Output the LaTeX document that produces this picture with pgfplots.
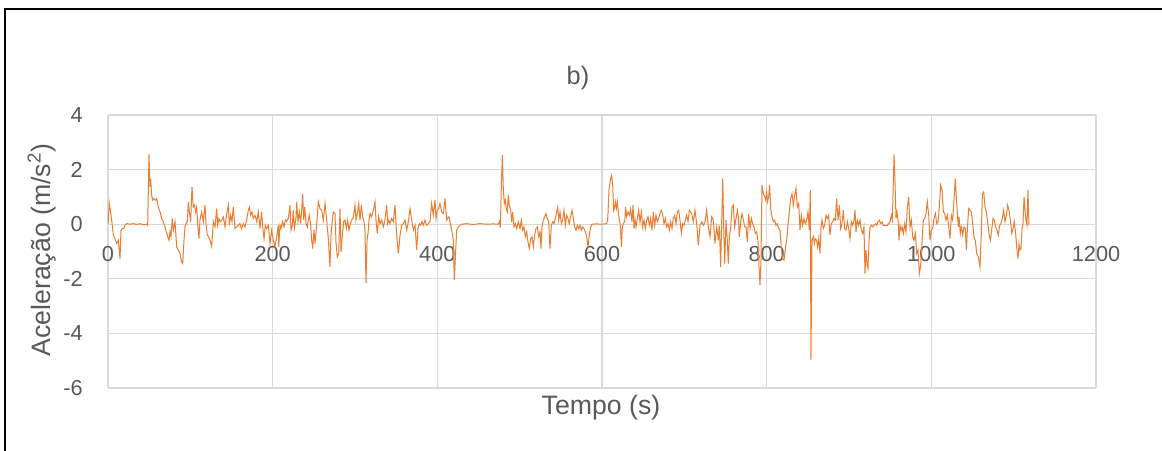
\documentclass[border=0pt]{standalone}
\usepackage{fontspec}
\setmainfont{Liberation Sans}
\usepackage{pgfplots}
\pgfplotsset{compat=1.18}
\definecolor{accorange}{HTML}{ED7D31}
\definecolor{txtgray}{HTML}{595959}
\definecolor{gridgray}{HTML}{D9D9D9}
\definecolor{zerogray}{HTML}{BFBFBF}
\begin{document}
\begin{tikzpicture}
\useasboundingbox (0,0) rectangle (871.5pt,337.5pt);
\draw[black, line width=1.5pt] (3.75pt,-1pt) -- (3.75pt,330.75pt) -- (873pt,330.75pt);
\begin{axis}[
  at={(81pt,46.5pt)}, anchor=south west,
  scale only axis, width=741pt, height=204.75pt,
  xmin=0, xmax=1200, ymin=-6, ymax=4,
  xtick={0,200,...,1200}, xticklabels={0,200,400,600,800,1000,1200},
  ytick={-6,-4,...,4}, yticklabels={-6,-4,-2,0,2,4},
  extra y ticks={0}, extra y tick labels={},
  extra y tick style={grid style={color=zerogray, line width=0.9pt}},
  grid=major, major grid style={color=gridgray, line width=0.9pt},
  axis line style={draw=none},
  major tick length=0pt,
  tick label style={font=\fontsize{16.3}{19}\selectfont, text=txtgray, inner sep=0pt},
  xticklabel style={anchor=center, yshift=100.5pt},
  yticklabel style={anchor=east, xshift=-18.75pt},
  xlabel={Tempo (s)},
  ylabel={Aceleração (m/s\textsuperscript{2})},
  label style={font=\fontsize{20}{24}\selectfont, text=txtgray},
  x label style={at={(axis description cs:0.499,-0.073)}, anchor=center},
  y label style={at={(axis description cs:-0.0668,0.505)}, anchor=center},
  title={b)},
  title style={at={(axis description cs:0.4757,1.105)}, anchor=center, font=\fontsize{19}{23}\selectfont, text=txtgray},
]
\addplot[color=accorange, line width=0.75pt, mark=none] table {
t v
0 0.0
1.6 0.76
4.5 0.15
6.5 -0.40
8.5 -0.53
10.5 -0.71
12.6 -0.59
14.6 -1.26
15.8 -0.22
17.4 -0.16
19.4 -0.16
20.6 -0.04
22.7 0.02
26.7 0
30.8 0.02
34.8 -0.01
38.9 0.02
42.9 -0.02
47.0 0.0
48.2 -0.04
49.8 2.56
51.0 1.37
51.8 1.67
53.0 1.06
54.3 0.88
55.9 0.94
57.9 0.88
59.1 0.94
61.1 0.63
63.2 0.45
65.2 0.21
67.2 0.09
69.2 -0.10
71.3 -0.34
72.5 -0.46
74.1 -0.59
75.3 -0.28
76.5 -0.46
78.1 0.21
79.4 -0.22
81.4 0.09
83.4 -0.83
85.4 -0.95
87.4 -1.07
89.5 -1.38
90.7 -1.44
92.3 -0.59
93.5 -0.10
94.7 0.02
96.4 0.09
97.6 0.82
98.8 0.45
100.4 0.09
102.0 1.37
103.6 0.63
104.9 0.70
106.5 0.45
107.7 0.63
108.9 0.02
110.5 -0.53
111.7 0.15
113.8 0.45
115.8 0.09
117.8 0.70
119.0 0.02
120.6 -0.40
122.3 -0.46
123.9 -0.59
125.9 -0.81
127.9 0.09
130.0 -0.10
132.0 0.57
133.2 -0.04
134.8 0.21
136.0 0.09
138.1 0.15
140.1 0.27
142.1 -0.10
144.1 0.39
146.2 0.70
147.4 -0.04
149.0 0.33
150.6 0.09
152.2 0.63
154.3 -0.16
156.3 -0.10
158.3 -0.04
160.3 0.02
162.3 -0.16
164.4 0.02
166.4 -0.10
168.4 0.15
170.4 0.51
171.7 0.63
173.3 0.33
174.9 0.45
176.5 0.21
178.5 0.33
180.6 0.09
182.6 0.45
184.6 -0.16
186.6 0.45
187.9 -0.10
189.5 -0.53
191.1 -0.04
192.7 -0.16
194.7 -0.04
196.8 -0.71
198.8 -0.22
200.8 -0.59
202.8 -0.83
204.9 -0.46
206.9 -0.04
207.3 -0.83
208.9 -0.04
210.1 -0.16
212.1 0.09
213.8 -0.10
215.4 0.15
217.0 0.09
219.0 0.21
221.1 0.70
222.3 -0.22
223.9 -0.04
225.1 0.51
226.3 -0.16
228.3 0.21
229.1 0.82
230.8 0.09
232.4 0.45
234.0 0.02
235.2 0.51
236.4 1.12
237.7 0.15
238.9 0.63
240.5 0.02
242.1 -0.10
243.3 0.15
244.5 0.33
246.2 -0.04
247.4 -0.59
248.6 -0.89
250.2 -0.22
251.4 -0.71
253.4 -0.04
255.5 0.82
257.5 0.57
259.5 0.51
261.5 0.15
263.6 0.76
265.6 0.15
267.6 -0.53
269.6 -1.56
270.9 -0.34
272.5 0.15
273.7 0.45
275.7 0.39
276.9 -0.65
278.5 -1.20
280.2 -1.07
281.8 0.57
283.0 -1.01
284.6 -0.46
286.2 0.09
287.9 0.15
289.5 -0.16
291.1 0.15
292.7 -0.22
294.3 0.02
296.0 0.15
298.0 0.27
300.0 0.70
301.2 0.15
302.8 0.39
304.5 0.76
306.1 0.15
307.7 0.70
309.3 0.27
310.9 0.09
312.1 -0.22
313.4 -2.17
314.6 -0.59
315.8 -0.34
317.0 0.15
318.2 0.39
320.2 0.27
322.3 0.51
324.3 0.82
325.5 0.15
327.1 -0.34
328.7 0.27
330.4 0.02
332.4 0.15
334.4 -0.10
336.4 0.15
338.5 0.70
339.7 0.02
340.9 0.15
342.5 0.02
344.5 0.21
346.6 0.09
348.6 0.70
350.6 -0.40
352.6 -1.07
354.7 -0.40
356.7 -0.04
358.7 0.02
360.7 0.15
362.8 -0.22
364.8 0.09
366.8 0.57
368.8 0.15
370.9 -0.22
372.9 -0.04
374.9 -0.95
376.5 -0.16
378.1 0.02
379.8 -0.04
381.4 0.09
383.0 -0.04
385.0 0.15
387.0 -0.04
389.1 0.02
391.1 0.09
393.1 0.76
395.1 0.33
397.2 0.88
398.4 0.21
400.0 0.51
401.6 0.57
403.2 0.76
405.3 0.45
407.3 0.39
409.3 0.94
411.3 0.15
413.4 0.27
414.2 0.27
415.4 0.09
417.4 -0.22
419.4 -0.59
420.6 -2.05
422.3 -0.95
423.5 -0.22
425.5 -0.10
427.5 -0.04
429.6 0.0
435.6 0.02
443.7 -0.01
451.8 0.02
459.9 0.0
468.0 0.01
474.1 0.0
475.3 0.09
476.5 -0.12
477.7 1.37
479.0 2.53
480.2 1.25
481.4 0.76
482.6 0.88
483.8 0.57
485.0 0.45
486.2 1.06
487.4 0.70
489.1 0.51
490.3 0.09
491.5 0.45
493.1 -0.10
494.7 0.02
496.4 -0.16
498.4 0.09
500.4 -0.16
502.0 0.15
503.6 -0.22
505.3 -0.10
506.9 -0.46
508.5 -0.28
510.1 -0.65
511.7 -0.89
513.4 -0.53
515.0 -0.46
516.6 -0.83
518.2 -0.40
519.8 -0.16
521.5 -0.10
523.1 -0.46
524.7 -0.28
525.9 -0.89
527.1 -0.10
528.7 0.15
530.4 0.27
532.0 0.39
533.6 0.21
535.2 0.09
536.8 -0.89
538.5 -0.04
540.1 0.09
541.7 0.02
543.3 0.21
544.9 0.45
546.2 0.63
547.4 0.15
549.0 0.45
550.6 0.02
552.2 0.15
553.8 0.51
555.5 -0.04
557.1 0.33
558.7 0.21
560.3 0.02
561.9 0.27
563.6 0.51
565.2 0.21
566.8 -0.10
568.4 -0.22
570.0 -0.04
571.7 -0.16
573.3 -0.04
574.9 -0.22
576.5 -0.10
578.1 -0.16
579.8 -0.28
581.4 -0.46
583.0 -0.83
584.6 -0.40
586.2 -0.10
587.9 0.0
593.5 0.01
599.6 0.0
605.7 0.02
606.9 0.15
608.5 1.25
610.1 1.61
611.7 1.79
613.0 1.40
614.2 0.51
615.4 0.63
616.2 0.82
617.4 0.57
618.6 0.82
619.8 0.45
621.1 0.15
622.3 -0.04
623.5 -0.83
624.7 -0.10
625.9 0.02
627.5 0.09
628.7 0.63
629.9 0.27
631.6 0.45
633.2 0.33
634.8 0.57
636.4 0.09
637.7 0.70
638.9 -0.16
640.1 0.15
641.3 -0.10
642.9 0.21
644.5 0.51
646.2 0.09
647.8 0.45
649.4 -0.10
651.0 0.15
652.6 -0.16
654.3 0.15
655.9 0.27
657.5 -0.04
659.1 0.21
660.7 -0.22
662.3 0.45
664.0 -0.04
665.6 0.33
667.2 0.09
668.8 0.21
670.4 0.39
672.1 0.51
673.7 0.33
675.3 0.02
676.9 0.21
678.5 -0.10
680.2 0.02
681.8 -0.22
683.4 0.09
685.0 -0.16
686.6 0.21
688.3 0.33
689.9 0.02
691.5 0.45
693.1 0.51
694.7 0.15
696.4 -0.34
698.0 0.02
699.6 -0.04
701.2 0.15
702.8 0.33
704.5 0.09
706.1 0.51
708.9 0.39
710.9 0.09
712.9 0.51
715.0 0.02
717.0 -0.77
719.0 -0.04
721.1 0.09
723.1 -0.04
725.1 0.09
727.1 0.51
729.1 -0.10
731.2 -0.46
733.2 0.27
735.2 0.15
737.2 -0.71
739.3 -0.10
741.3 -0.59
742.5 -0.04
744.1 -1.56
745.3 0.02
746.6 1.67
747.8 -0.10
749.0 -1.44
750.6 0.15
752.2 -0.59
753.4 -1.44
754.7 -0.46
756.3 -0.10
757.9 0.63
759.5 0.70
761.1 -0.10
762.8 0.21
764.4 0.51
765.6 0.27
766.8 -0.46
768.4 0.09
770.0 0.39
771.7 0.15
773.3 -0.10
774.9 -0.10
776.5 -0.65
778.1 0.39
779.8 -0.16
781.4 0.21
783.0 0.02
784.6 -0.10
786.2 -0.34
787.9 -0.28
789.5 -0.65
790.7 -1.56
791.9 -2.23
793.1 -1.32
794.3 1.43
795.9 1.12
797.6 1.00
798.8 0.88
800.0 1.18
801.2 0.82
802.4 1.00
803.6 1.43
804.9 0.57
806.5 0.27
808.1 0.09
809.7 0.15
811.3 -0.04
812.9 0.02
814.6 -0.16
816.2 -0.22
817.8 -0.89
819.4 -1.26
821.1 -1.32
822.7 -0.89
824.3 -0.59
825.9 -0.04
827.5 0.45
829.1 0.94
830.8 1.12
832.4 0.70
834.0 1.06
835.6 1.31
837.2 0.63
838.9 0.76
840.5 -0.22
842.1 0.33
843.7 -0.04
845.3 0.21
846.9 0.02
848.6 0.15
850.2 0.45
851.8 -0.22
853.0 1.25
853.8 -4.98
855.1 -0.59
856.7 -0.46
857.9 -0.71
859.1 -0.53
860.7 -0.59
861.9 -0.83
863.2 -0.53
864.8 -1.07
866.0 -0.10
867.2 0.15
868.8 -0.16
870.4 -0.04
872.1 0.33
873.7 0.21
875.3 0.33
876.9 -0.40
878.5 0.02
880.2 0.09
881.8 0.21
883.4 0.15
885.0 0.94
886.6 0.15
888.3 0.70
889.9 -0.16
891.5 0.02
893.1 0.51
894.7 -0.16
896.4 -0.22
898.0 0.09
899.6 -0.16
901.2 -0.53
902.8 0.09
904.5 -0.04
906.1 0.15
907.3 0.51
908.5 -0.28
910.1 0.15
911.7 -0.04
913.4 0.15
915.0 -0.22
916.6 -0.34
918.2 -0.10
919.4 -1.81
920.6 -0.95
921.9 -1.44
923.1 -1.62
924.3 -0.65
925.5 -0.10
927.1 -0.04
928.7 -0.10
930.4 -0.04
932.0 0.02
933.6 -0.04
935.2 0.09
936.8 0.15
938.5 0.02
940.1 0.09
941.7 -0.04
943.3 -0.04
944.9 -0.04
946.6 -0.04
948.2 0.02
949.8 0.09
951.4 0.33
952.6 0.15
953.8 1.49
954.7 2.56
955.9 1.49
957.1 0.21
958.3 0.45
959.5 0.15
960.7 -0.59
961.9 -0.04
963.2 -0.22
964.4 -0.10
966.0 -0.34
967.6 0.02
969.2 -0.28
970.9 0.63
972.5 1.00
974.1 -0.10
975.7 0.15
977.3 -0.46
978.9 -0.59
980.6 -0.34
982.2 -1.07
983.8 -0.95
985.4 -1.81
987.0 -1.50
988.7 -0.65
990.3 0.15
991.9 0.21
993.5 0.39
995.1 0.82
996.8 0.33
998.4 -0.59
1000.0 -0.22
1001.6 -0.16
1003.2 0.21
1004.9 0.39
1006.5 0.02
1008.1 0.09
1009.7 0.63
1011.3 1.43
1013.0 1.25
1014.6 0.45
1016.2 0.39
1017.8 0.15
1019.4 0.33
1021.1 -0.10
1022.7 -0.53
1024.3 0.33
1025.9 0.15
1027.5 0.88
1029.1 1.67
1030.8 0.76
1032.8 -0.10
1033.6 0.27
1035.2 -0.34
1036.4 -0.10
1038.1 -0.40
1039.7 -0.10
1041.3 -0.16
1042.5 -0.95
1043.7 -0.22
1045.3 0.57
1047.0 0.51
1048.6 0.45
1050.2 0.02
1051.8 -0.46
1053.4 -0.59
1055.1 -1.07
1057.1 -1.20
1059.1 -1.56
1060.7 -0.34
1062.0 1.12
1063.6 1.18
1065.2 0.63
1066.8 0.45
1068.4 0.09
1070.0 -0.34
1071.7 -0.59
1073.3 -0.22
1074.9 0.21
1076.5 0.15
1078.1 -0.10
1079.8 -0.22
1081.4 -0.40
1083.0 -0.04
1084.6 0.02
1086.2 0.21
1087.9 0.51
1089.5 0.09
1091.1 0.33
1092.7 0.70
1094.3 0.51
1096.0 0.15
1097.6 -0.34
1099.2 -0.16
1100.8 0.09
1102.4 -0.34
1104.0 -0.95
1105.3 -1.26
1106.5 -0.71
1107.7 -0.95
1108.9 -0.89
1110.1 -0.16
1111.3 0.02
1112.6 1.00
1113.8 0.51
1115.0 0.15
1116.2 -0.04
1117.4 1.25
1118.6 -0.04
};
\end{axis}
\end{tikzpicture}
\end{document}
